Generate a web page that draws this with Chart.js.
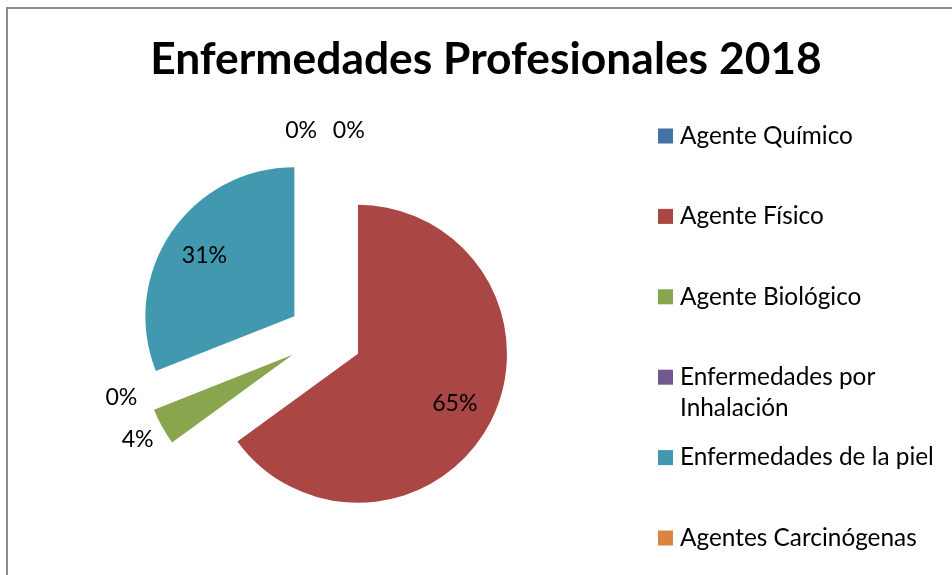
<!DOCTYPE html>
<html>
<head>
<meta charset="utf-8">
<script src="https://cdn.jsdelivr.net/npm/chart.js@4.4.1/dist/chart.umd.min.js"></script>
<style>
  html, body { margin:0; padding:0; background:#fff; }
  #wrap { width:952px; height:575px; position:relative; }
</style>
</head>
<body>
<div id="wrap"><canvas id="pie" width="952" height="575"></canvas></div>
<script>
const TITLE = 'Enfermedades Profesionales 2018';
const labels = ['Agente Químico', 'Agente Físico', 'Agente Biológico', 'Enfermedades por Inhalación', 'Enfermedades de la piel', 'Agentes Carcinógenas'];
const legendLines = [['Agente Químico'], ['Agente Físico'], ['Agente Biológico'], ['Enfermedades por', 'Inhalación'], ['Enfermedades de la piel'], ['Agentes Carcinógenas']];
const values = [0, 65, 4, 0, 31, 0];
const colors = ['#4572A7', '#AA4643', '#89A54E', '#71588F', '#4198AF', '#DB843D'];

const FONT = 'Lato, "Open Sans", sans-serif';
const R = 149;        // pie radius
const EXPLODE = 37;   // px each slice is pulled out

// font size that makes `text` come out `w` px wide
function fitSize(ctx, text, w, weight){
  ctx.font = weight + ' 100px ' + FONT;
  return 100 * w / ctx.measureText(text).width;
}

// chart.js v4 moves a slice by offset/4 but also grows its radius and trims its angle; undo both
const explodeFix = {
  id:'explodeFix',
  beforeDatasetsDraw(chart){
    chart.getDatasetMeta(0).data.forEach(arc => {
      const fix = 1 - Math.sin(Math.min(Math.PI, arc.circumference || 0));
      const ro = EXPLODE * fix;
      arc.outerRadius = R - ro;
      if (arc.circumference > 0) {
        const ao = ro / (2 * Math.PI * R);
        arc.startAngle -= ao;
        arc.endAngle += ao;
      }
    });
  }
};

const decor = {
  id:'decor',
  afterDraw(chart){
    const ctx = chart.ctx;
    ctx.save();
    // frame
    ctx.strokeStyle = '#8c8c8c'; ctx.lineWidth = 2;
    ctx.strokeRect(7, 8, 1000, 1000);

    // title
    const ts = fitSize(ctx, TITLE, 672, 'bold');
    ctx.font = 'bold ' + ts + 'px ' + FONT;
    ctx.fillStyle = '#000'; ctx.textAlign = 'center'; ctx.textBaseline = 'middle';
    ctx.fillText(TITLE, 486, 60);

    // legend
    const ls = fitSize(ctx, 'Agente Químico', 173, 'normal');
    ctx.font = ls + 'px ' + FONT;
    ctx.textAlign = 'left';
    legendLines.forEach((lines, i) => {
      const y = 136 + i * 80.4;
      ctx.fillStyle = colors[i];
      ctx.fillRect(658, y - 7.5, 15, 15);
      ctx.fillStyle = '#000';
      lines.forEach((t, j) => ctx.fillText(t, 680, y + j * 31));
    });

    // percentage labels
    const meta = chart.getDatasetMeta(0);
    const total = values.reduce((a, b) => a + b, 0);
    const ps = fitSize(ctx, '0%', 32, 'normal');
    ctx.font = ps + 'px ' + FONT;
    ctx.textAlign = 'center';
    meta.data.forEach((arc, i) => {
      const mid = (arc.startAngle + arc.endAngle) / 2;
      const ax = arc.x + Math.cos(mid) * EXPLODE, ay = arc.y + Math.sin(mid) * EXPLODE;
      const pct = Math.round(values[i] / total * 100);
      const txt = pct + '%';
      let ang = mid, dist;
      if (pct >= 10) {
        dist = R * 0.73;
      } else {
        if (values[i] === 0) {
          const nudge = i === 0 ? 8 : (i === values.length - 1 ? -8 : 6);
          ang = mid + nudge * Math.PI / 180;
        }
        const hw = ctx.measureText(txt).width / 2, hh = 12;
        dist = R + 8 + Math.abs(Math.cos(ang)) * hw + Math.abs(Math.sin(ang)) * hh;
      }
      ctx.fillText(txt, ax + Math.cos(ang) * dist, ay + Math.sin(ang) * dist);
    });
    ctx.restore();
  }
};

new Chart(document.getElementById('pie'), {
  type:'pie',
  data:{ labels:labels, datasets:[{ data:values, backgroundColor:colors, borderWidth:0, offset:EXPLODE * 4, radius:R }] },
  options:{
    responsive:false, animation:false,
    layout:{ padding:{ left:0, right:302, top:99, bottom:0 } },
    plugins:{ legend:{ display:false }, title:{ display:false }, tooltip:{ enabled:false } }
  },
  plugins:[explodeFix, decor]
});
</script>
</body>
</html>
